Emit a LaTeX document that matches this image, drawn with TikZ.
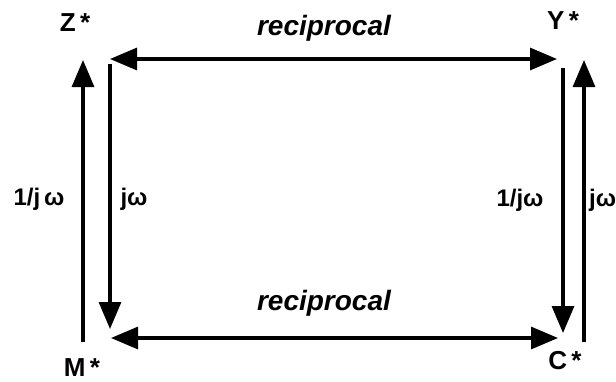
\documentclass[tikz,border=0pt]{standalone}
\usepackage{fontspec}
\setmainfont{Liberation Sans}
\usetikzlibrary{arrows.meta}
\tikzset{
  conn/.style={line width=3.2pt, -{Triangle[length=27pt,width=22pt]}},
  dconn/.style={line width=3.2pt, {Triangle[length=27pt,width=22pt]}-{Triangle[length=27pt,width=22pt]}},
  corner/.style={font=\fontsize{26}{28}\selectfont\bfseries, inner sep=0pt},
  lbl/.style={font=\fontsize{24}{26}\selectfont\bfseries, inner sep=0pt},
  recip/.style={font=\fontsize{28}{30}\selectfont\bfseries\itshape, inner sep=0pt}
}
\begin{document}
\begin{tikzpicture}[x=1pt,y=-1pt]
\useasboundingbox (0,0) rectangle (616,381);
% corner labels
\node[corner] (Z) at (75,23) {Z\,*};
\node[corner] (Y) at (563,21) {Y\,*};
\node[corner] (M) at (82,368) {M\,*};
\node[corner] (C) at (565,361) {C\,*};
% arrow end points
\coordinate (tl) at (110,59);
\coordinate (tr) at (557,59);
\coordinate (bl) at (111,338);
\coordinate (br) at (558,338);
\coordinate (lu0) at (83,342);
\coordinate (lu1) at (83,60);
\coordinate (ld0) at (110,64);
\coordinate (ld1) at (110,329);
\coordinate (rd0) at (563,68);
\coordinate (rd1) at (563,333);
\coordinate (ru0) at (584,342);
\coordinate (ru1) at (584,60);
% connectors
\draw[dconn] (tl) -- (tr);
\draw[dconn] (bl) -- (br);
\draw[conn] (lu0) -- (lu1);
\draw[conn] (ld0) -- (ld1);
\draw[conn] (rd0) -- (rd1);
\draw[conn] (ru0) -- (ru1);
% labels
\node[recip] (rt) at (324,28) {reciprocal};
\node[recip] (rb) at (324,303) {reciprocal};
\node[lbl] (l1) at (39,199) {1/j\,ω};
\node[lbl] (l2) at (134,199) {jω};
\node[lbl] (l3) at (520,200) {1/jω};
\node[lbl, anchor=west] (l4) at (589,200) {jω};
\end{tikzpicture}
\end{document}
